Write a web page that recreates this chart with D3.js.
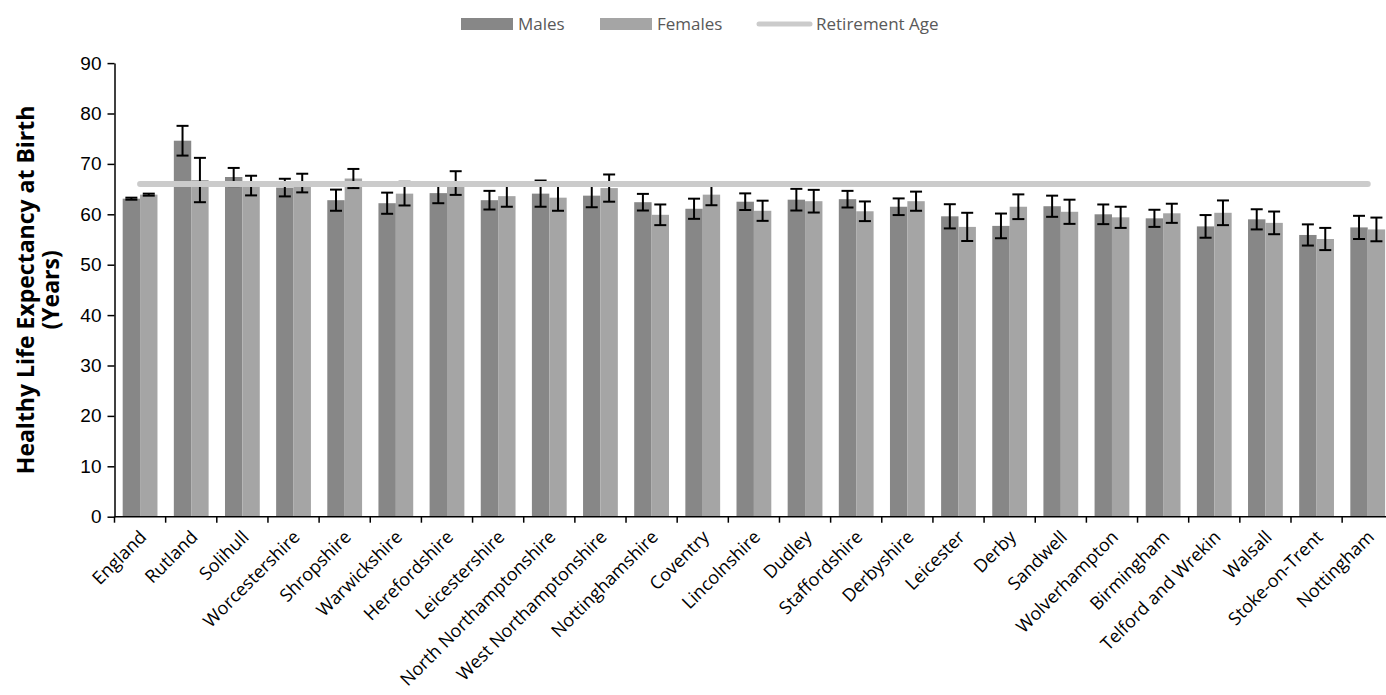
<!DOCTYPE html>
<html>
<head>
<meta charset="utf-8">
<script src="https://cdn.jsdelivr.net/npm/d3@7/dist/d3.min.js"></script>
<style>
  html, body { margin: 0; padding: 0; background: #fff; }
  svg { display: block; font-family: "Open Sans", "Noto Sans", sans-serif; }
</style>
</head>
<body>
<svg id="chart" width="1386" height="695"></svg>
<script>
// Healthy life expectancy at birth by area, with 95% confidence intervals
const categories = ["England", "Rutland", "Solihull", "Worcestershire", "Shropshire", "Warwickshire",
  "Herefordshire", "Leicestershire", "North Northamptonshire", "West Northamptonshire", "Nottinghamshire",
  "Coventry", "Lincolnshire", "Dudley", "Staffordshire", "Derbyshire", "Leicester", "Derby", "Sandwell",
  "Wolverhampton", "Birmingham", "Telford and Wrekin", "Walsall", "Stoke-on-Trent", "Nottingham"];

const males = [63.1, 74.6, 67.4, 65.3, 62.8, 62.2, 64.2, 62.8, 64.1, 63.7, 62.4, 61.1, 62.5,
  62.9, 63.0, 61.5, 59.6, 57.7, 61.6, 60.0, 59.2, 57.6, 59.0, 55.9, 57.4];
const maleErr = [0.2, 2.95, 1.8, 1.75, 2.1, 2.1, 2.0, 1.85, 2.6, 2.3, 1.65, 2.0, 1.65,
  2.15, 1.65, 1.65, 2.4, 2.45, 2.1, 1.95, 1.7, 2.25, 2.0, 2.1, 2.3];

const females = [63.9, 66.8, 65.7, 66.2, 67.1, 64.1, 66.2, 63.6, 63.3, 65.2, 59.9, 63.9, 60.7,
  62.6, 60.6, 62.6, 57.5, 61.5, 60.5, 59.4, 60.2, 60.3, 58.3, 55.1, 57.0];
const femaleErr = [0.2, 4.4, 1.95, 1.85, 1.9, 2.35, 2.35, 2.1, 2.6, 2.7, 2.05, 2.1, 2.0,
  2.25, 1.95, 1.9, 2.8, 2.45, 2.4, 2.1, 1.9, 2.45, 2.25, 2.2, 2.35];

const retirementAge = 66;
const yTicks = [0, 10, 20, 30, 40, 50, 60, 70, 80, 90];

const seriesNames = ["Males", "Females"];
const seriesColors = ["#878787", "#a5a5a5"];
const lineColor = "#cbcbcb";

const svg = d3.select("#chart");

const plot = { left: 114.5, right: 1393.3, top: 63.1, bottom: 516.7 };

const x = d3.scaleBand()
  .domain(categories)
  .range([plot.left, plot.right])
  .paddingInner(0.32)
  .paddingOuter(0.16);

const xInner = d3.scaleBand()
  .domain(seriesNames)
  .range([0, x.bandwidth()]);

const y = d3.scaleLinear()
  .domain([0, 90])
  .range([plot.bottom, plot.top]);

const rows = categories.map((c, i) => ({
  category: c,
  values: [
    { series: "Males", value: males[i], err: maleErr[i] },
    { series: "Females", value: females[i], err: femaleErr[i] }
  ]
}));

// Bars
const groups = svg.append("g").selectAll("g")
  .data(rows)
  .join("g")
  .attr("transform", d => `translate(${x(d.category)},0)`);

groups.selectAll("rect")
  .data(d => d.values)
  .join("rect")
  .attr("x", d => xInner(d.series))
  .attr("y", d => y(d.value))
  .attr("width", xInner.bandwidth())
  .attr("height", d => y(0) - y(d.value))
  .attr("fill", (d, i) => seriesColors[i]);

// Error bars
const capHalf = 6;
const errs = groups.selectAll("g.err")
  .data(d => d.values)
  .join("g")
  .attr("class", "err")
  .attr("stroke", "#000")
  .attr("stroke-width", 2)
  .attr("transform", d => `translate(${xInner(d.series) + xInner.bandwidth() / 2},0)`);

errs.append("line")
  .attr("x1", 0).attr("x2", 0)
  .attr("y1", d => y(d.value - d.err))
  .attr("y2", d => y(d.value + d.err));
errs.append("line")
  .attr("x1", -capHalf).attr("x2", capHalf)
  .attr("y1", d => y(d.value + d.err))
  .attr("y2", d => y(d.value + d.err));
errs.append("line")
  .attr("x1", -capHalf).attr("x2", capHalf)
  .attr("y1", d => y(d.value - d.err))
  .attr("y2", d => y(d.value - d.err));

// Retirement age line across all areas
const retLine = d3.line()
  .x(d => x(d) + x.bandwidth() / 2)
  .y(() => y(retirementAge));

svg.append("path")
  .datum(categories)
  .attr("d", retLine)
  .attr("fill", "none")
  .attr("stroke", lineColor)
  .attr("stroke-width", 6)
  .attr("stroke-linecap", "round");

// Y axis
const yAxis = svg.append("g")
  .attr("transform", `translate(${plot.left},0)`)
  .call(d3.axisLeft(y).tickValues(yTicks).tickSize(7).tickPadding(6).tickSizeOuter(0));
yAxis.select(".domain").attr("stroke", "#000").attr("stroke-width", 1.5);
yAxis.selectAll(".tick line").attr("stroke", "#000").attr("stroke-width", 1.5);
yAxis.selectAll(".tick text")
  .attr("fill", "#000")
  .style("font-size", "19px");

// X axis with ticks on band boundaries
const xAxis = svg.append("g")
  .attr("transform", `translate(0,${plot.bottom})`);
xAxis.append("line")
  .attr("x1", plot.left).attr("x2", plot.right)
  .attr("stroke", "#000").attr("stroke-width", 1.5);
xAxis.selectAll("line.tk")
  .data(categories)
  .join("line")
  .attr("class", "tk")
  .attr("x1", d => x(d) - x.step() * x.paddingInner() / 2)
  .attr("x2", d => x(d) - x.step() * x.paddingInner() / 2)
  .attr("y1", 0).attr("y2", 6)
  .attr("stroke", "#000").attr("stroke-width", 1.5);

xAxis.selectAll("text")
  .data(categories)
  .join("text")
  .attr("transform", d => `translate(${x(d) + x.bandwidth() / 2 + 3},17) rotate(-45)`)
  .attr("text-anchor", "end")
  .attr("dy", "0.35em")
  .attr("fill", "#000")
  .style("font-size", "18px")
  .text(d => d);

// Y axis title
const yTitle = svg.append("text")
  .attr("transform", `translate(0,${(plot.top + plot.bottom) / 2}) rotate(-90)`)
  .attr("text-anchor", "middle")
  .attr("fill", "#000")
  .style("font-size", "23px")
  .style("font-weight", "bold");
yTitle.append("tspan").attr("x", 0).attr("y", 34).text("Healthy Life Expectancy at Birth");
yTitle.append("tspan").attr("x", 0).attr("y", 59).text("(Years)");

// Legend
const legend = svg.append("g");
const legendItems = [
  { name: "Males", type: "rect", color: seriesColors[0], x: 461 },
  { name: "Females", type: "rect", color: seriesColors[1], x: 600 },
  { name: "Retirement Age", type: "line", color: lineColor, x: 756 }
];
legendItems.forEach(it => {
  if (it.type === "rect") {
    legend.append("rect")
      .attr("x", it.x).attr("y", 18)
      .attr("width", 52).attr("height", 12)
      .attr("fill", it.color);
    legend.append("text")
      .attr("x", it.x + 57).attr("y", 30)
      .attr("fill", "#595959")
      .style("font-size", "17px")
      .text(it.name);
  } else {
    legend.append("line")
      .attr("x1", it.x + 3).attr("x2", it.x + 54)
      .attr("y1", 24).attr("y2", 24)
      .attr("stroke", it.color).attr("stroke-width", 5)
      .attr("stroke-linecap", "round");
    legend.append("text")
      .attr("x", it.x + 60).attr("y", 30)
      .attr("fill", "#595959")
      .style("font-size", "17px")
      .text(it.name);
  }
});
</script>
</body>
</html>
